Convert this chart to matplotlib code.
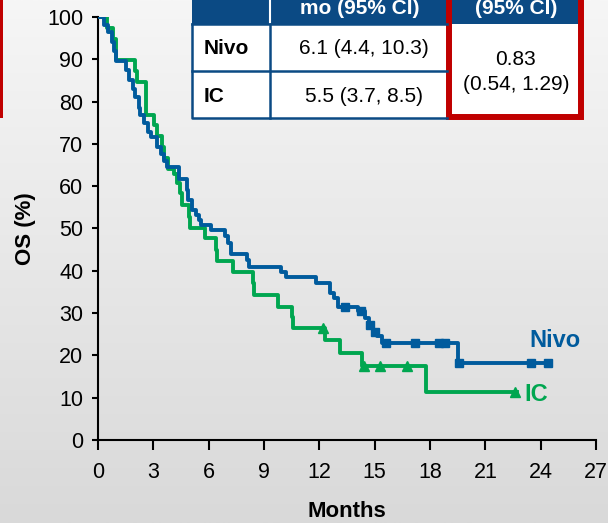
import matplotlib
matplotlib.use('Agg')
import matplotlib.pyplot as plt
from matplotlib.colors import LinearSegmentedColormap
from matplotlib.patches import Rectangle
import numpy as np

plt.rcParams['font.family'] = ['Liberation Sans', 'DejaVu Sans']

BLUE = '#005b9d'
GREEN = '#00a650'
NAVY = '#0b4a84'
RED = '#c00000'

# Kaplan-Meier steps (months, OS %)
NIVO_T = [0, 0.3, 0.55, 0.75, 0.85, 0.95, 1.5, 1.7, 1.9, 2.0, 2.2, 2.3, 2.5, 2.7,
          2.9, 3.2, 3.4, 3.6, 3.72, 4.37, 4.8, 4.9, 5.1, 5.3, 5.45, 5.6, 6.1,
          6.9, 7.05, 7.2, 8.1, 8.2, 9.9, 10.2, 11.8, 12.6, 12.8, 13.0, 14.1,
          14.5, 14.7, 14.9, 15.1, 15.4, 19.5, 24.4]
NIVO_S = [100, 98, 96.5, 94, 92, 89.6, 87.5, 85, 83, 81, 78.5, 76.8, 74.9, 72.9,
          71.7, 69.3, 67.5, 66, 64.6, 61.8, 59, 56.7, 54.4, 53.2, 52, 50.8, 49.6,
          48.3, 46.5, 43.9, 42.5, 41, 39.8, 38.6, 37, 34.7, 33.5, 31.5, 30.4,
          28.8, 27.2, 25.6, 24.5, 23.0, 18.3, 18.3]
NIVO_CENSOR = [13.4, 14.25, 14.72, 15.0, 15.6, 17.2, 18.5, 18.8, 19.55, 23.5, 24.4]

IC_T = [0, 0.5, 0.8, 0.95, 1.0, 2.0, 2.1, 2.62, 3.05, 3.2, 3.45, 3.6, 3.8, 4.1,
        4.26, 4.45, 4.54, 4.95, 5.0, 5.8, 6.4, 6.45, 7.34, 8.4, 8.45, 9.78,
        10.5, 10.55, 12.3, 13.1, 14.3, 17.8, 22.7]
IC_S = [100, 97.4, 94.8, 92.3, 89.8, 87.2, 84.6, 76.9, 74.4, 71.8, 69.2, 66.7,
        64.1, 63, 60.7, 58.3, 55.6, 52.8, 50, 47.7, 44.9, 42.2, 39.8, 37, 34.3,
        31.5, 29, 26.4, 23.6, 20.5, 17.5, 11.4, 11.4]
IC_CENSOR = [12.2, 14.4, 15.3, 16.75, 22.6]

X_TICKS = list(range(0, 28, 3))
Y_TICKS = list(range(0, 101, 10))

TABLE_HEADER = ['mo (95% CI)', '(95% CI)']
TABLE_ARMS = ['Nivo', 'IC']
TABLE_MEDIAN = ['6.1 (4.4, 10.3)', '5.5 (3.7, 8.5)']
TABLE_HR = '0.83\n(0.54, 1.29)'


def value_at(times, surv, t):
    i = np.searchsorted(times, t, side='right') - 1
    return surv[i]


def main():
    fig = plt.figure(figsize=(6.08, 5.23), dpi=100)

    # gray gradient background
    bg = fig.add_axes([0, 0, 1, 1], zorder=-10)
    cmap = LinearSegmentedColormap.from_list('bg', ['#f6f6f6', '#d9d9d9'])
    bg.imshow(np.linspace(0, 1, 256).reshape(-1, 1), aspect='auto', cmap=cmap,
              extent=[0, 608, 523, 0])
    bg.set_xlim(0, 608)
    bg.set_ylim(523, 0)
    bg.axis('off')

    ax = fig.add_axes([98 / 608, 83 / 523, 498 / 608, 423 / 523])
    ax.patch.set_alpha(0)
    ax.step(NIVO_T, NIVO_S, where='post', color=BLUE, lw=2.8, zorder=3)
    ax.step(IC_T, IC_S, where='post', color=GREEN, lw=2.8, zorder=2)
    ax.plot(NIVO_CENSOR, [value_at(NIVO_T, NIVO_S, t) for t in NIVO_CENSOR],
            's', color=BLUE, ms=6, zorder=4)
    ax.plot(IC_CENSOR, [value_at(IC_T, IC_S, t) for t in IC_CENSOR],
            '^', color=GREEN, ms=7, zorder=4)

    ax.text(23.4, 23.5, 'Nivo', color=BLUE, fontsize=17, fontweight='bold',
            va='center')
    ax.text(23.1, 10.8, 'IC', color=GREEN, fontsize=17, fontweight='bold',
            va='center')

    ax.set_xlim(0, 27)
    ax.set_ylim(0, 100)
    ax.set_xticks(X_TICKS)
    ax.set_yticks(Y_TICKS)
    ax.tick_params(axis='x', length=7, width=1.5, labelsize=15.5, pad=9)
    ax.tick_params(axis='y', length=4.5, width=1.5, labelsize=15.5, pad=6)
    for side in ['top', 'right']:
        ax.spines[side].set_visible(False)
    for side in ['left', 'bottom']:
        ax.spines[side].set_linewidth(1.5)
    ax.set_xlabel('Months', fontsize=16, fontweight='bold', labelpad=13)
    ax.set_ylabel('OS (%)', fontsize=16, fontweight='bold', labelpad=8)

    # table overlay in pixel coordinates
    ov = fig.add_axes([0, 0, 1, 1], zorder=5)
    ov.set_xlim(0, 608)
    ov.set_ylim(523, 0)
    ov.axis('off')

    ov.add_patch(Rectangle((0, -5), 2.5, 123, color=RED, lw=0))
    ov.add_patch(Rectangle((192, -5), 391, 29, color=NAVY, lw=0))
    ov.add_patch(Rectangle((192, 24), 391, 94, color='white', lw=0))
    ov.plot([270, 270], [-5, 24], color='white', lw=1.5)
    ov.plot([192, 192, 447], [24, 118, 118], color=NAVY, lw=1.8)
    ov.plot([192, 447], [24, 24], color=NAVY, lw=1.8)
    ov.plot([192, 447], [70.5, 70.5], color=NAVY, lw=1.8)
    ov.plot([270, 270], [24, 118], color=NAVY, lw=1.8)
    ov.add_patch(Rectangle((448.5, -10), 132, 126.5, fill=False, ec=RED, lw=4.3))

    ov.text(360, 14.5, TABLE_HEADER[0], color='white', fontsize=15,
            fontweight='bold', ha='center', va='baseline')
    ov.text(516, 14.5, TABLE_HEADER[1], color='white', fontsize=15,
            fontweight='bold', ha='center', va='baseline')
    for i, arm in enumerate(TABLE_ARMS):
        y = 48 + i * 48
        ov.text(204, y, arm, fontsize=15, fontweight='bold', ha='left',
                va='center')
        ov.text(364, y, TABLE_MEDIAN[i], fontsize=15, ha='center', va='center')
    ov.text(516, 72, TABLE_HR, fontsize=15, ha='center', va='center',
            linespacing=1.45)

    fig.savefig('out.png', dpi=100)


if __name__ == '__main__':
    main()
